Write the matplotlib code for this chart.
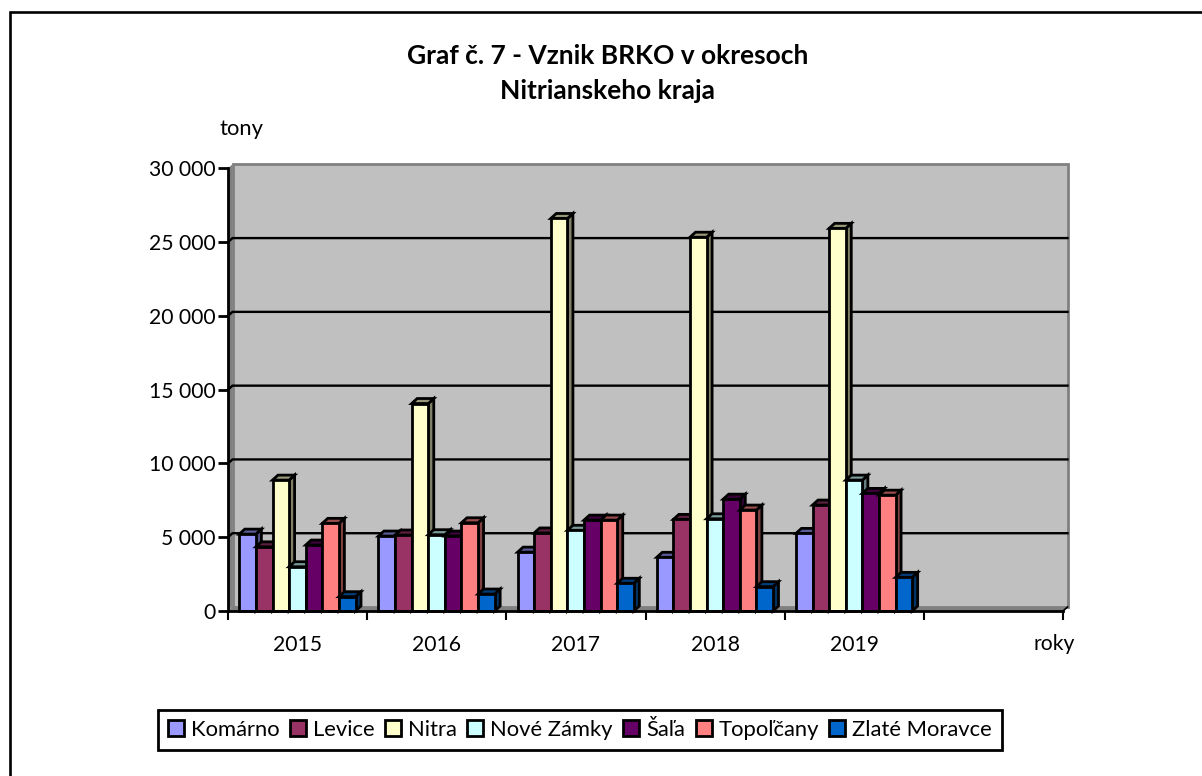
import matplotlib
matplotlib.use("Agg")
import matplotlib.pyplot as plt
from matplotlib.patches import Polygon, Patch
from matplotlib.colors import to_rgb

W, H = 1202, 776
years = ["2015", "2016", "2017", "2018", "2019", ""]
series = ["Komárno", "Levice", "Nitra", "Nové Zámky", "Šaľa", "Topoľčany", "Zlaté Moravce"]
colors = ["#9999FF", "#993366", "#FFFFCC", "#CCFFFF", "#660066", "#FF8080", "#0066CC"]
komarno = [5210, 5080, 3990, 3640, 5260]
levice = [4350, 5150, 5290, 6210, 7180]
nitra = [8870, 14060, 26600, 25330, 25930]
nove_zamky = [3000, 5170, 5470, 6250, 8870]
sala = [4470, 5080, 6160, 7580, 7970]
topolcany = [5940, 5980, 6160, 6840, 7850]
zlate_moravce = [970, 1150, 1880, 1650, 2280]
values = [komarno, levice, nitra, nove_zamky, sala, topolcany, zlate_moravce]
y_ticks = [0, 5000, 10000, 15000, 20000, 25000, 30000]

plt.rcParams["font.family"] = ["Lato", "DejaVu Sans"]
fig = plt.figure(figsize=(W / 100, H / 100), dpi=100, facecolor="white")
L, R, T, B = 228, 1063, 168.3, 611
ax = fig.add_axes([L / W, 1 - B / H, (R - L) / W, (B - T) / H])
ax.set_xlim(0, 6)
ax.set_ylim(0, 30000)
ax.patch.set_visible(False)
px = 6 / (R - L)
py = 30000 / (B - T)
ox, oy = 4.5 * px, 4 * py   # wall depth offset

def poly(pts, fc, ec="none", lw=0, z=1):
    ax.add_patch(Polygon(pts, closed=True, facecolor=fc, edgecolor=ec, linewidth=lw,
                         zorder=z, clip_on=False, joinstyle="miter"))

# walls and floor
poly([(0, 0), (ox, oy), (ox, 30000 + oy), (0, 30000)], "#808080", z=1)
poly([(0, 0), (6, 0), (6 + ox, oy), (ox, oy)], "#808080", z=1)
poly([(ox, oy), (6 + ox, oy), (6 + ox, 30000 + oy), (ox, 30000 + oy)], "#C0C0C0", "#808080", 2, z=1)
for v in y_ticks[1:-1]:
    ax.plot([0, ox, 6 + ox], [v, v + oy, v + oy], color="black", lw=1.7, zorder=2,
            clip_on=False, solid_joinstyle="miter")
ax.plot([6, 6 + ox], [0, oy], color="black", lw=1.2, zorder=2, clip_on=False)

# bars
bw = 16.6 * px
start = 11.3 * px
dx, dy = 5.5 * px, 5 * py
for s, (vals, col) in enumerate(zip(values, colors)):
    rgb = to_rgb(col)
    dark = tuple(c * 0.5 for c in rgb)
    top = tuple(c * 0.6 for c in rgb)
    for g, v in enumerate(vals):
        x0 = g + start + s * bw
        x1 = x0 + bw
        z = 3 + s * 0.1
        lw = 2.0
        poly([(x1, 0), (x1 + dx, dy), (x1 + dx, v + dy), (x1, v)], dark, "black", lw, z)
        poly([(x0, v), (x0 + dx, v + dy), (x1 + dx, v + dy), (x1, v)], top, "black", lw, z)
        ax.bar(x0, v, width=bw, align="edge", color=col, edgecolor="black",
               linewidth=lw, zorder=z + 0.01, clip_on=False)

for sp in ("top", "right"):
    ax.spines[sp].set_visible(False)
for sp in ("left", "bottom"):
    ax.spines[sp].set_linewidth(2.0)
    ax.spines[sp].set_zorder(5)
ax.set_yticks(y_ticks)
ax.set_yticklabels([f"{v:,}".replace(",", " ") for v in y_ticks], fontsize=15.2)
ax.set_xticks(range(7))
ax.set_xticklabels([])
ax.set_xticks([i + 0.5 for i in range(6)], years, minor=True, fontsize=15.2)
ax.tick_params(axis="y", length=7, width=2.0, pad=2)
ax.tick_params(axis="x", which="major", length=6.5, width=1.5)
ax.tick_params(axis="x", which="minor", length=0, pad=17)

def ftext(x, y, s, **kw):
    fig.text(x / W, 1 - y / H, s, ha="center", va="center", **kw)

ftext(608, 56, "Graf č. 7 - Vznik BRKO v okresoch", fontsize=19, fontweight="bold")
ftext(608, 91, "Nitrianskeho kraja", fontsize=19, fontweight="bold")
ftext(241, 129, "tony", fontsize=15.8)
ftext(1054, 644, "roky", fontsize=15.2)

# frame: top and left only, running off the picture
fig.add_artist(plt.Line2D([10 / W, 10 / W, 1], [0, 1 - 12 / H, 1 - 12 / H],
                          color="black", lw=1.9, solid_joinstyle="miter"))

handles = [Patch(facecolor=c, edgecolor="black", linewidth=2.0) for c in colors]
leg = fig.legend(handles, series, ncol=7, loc="center", bbox_to_anchor=(580 / W, 1 - 730 / H),
                 fontsize=15.8, frameon=True, fancybox=False, edgecolor="black", facecolor="white",
                 framealpha=1, handlelength=0.73, handleheight=0.73, handletextpad=0.3,
                 columnspacing=0.49, borderpad=0.45, borderaxespad=0)
leg.get_frame().set_linewidth(2.0)

fig.savefig("out.png", dpi=100)
